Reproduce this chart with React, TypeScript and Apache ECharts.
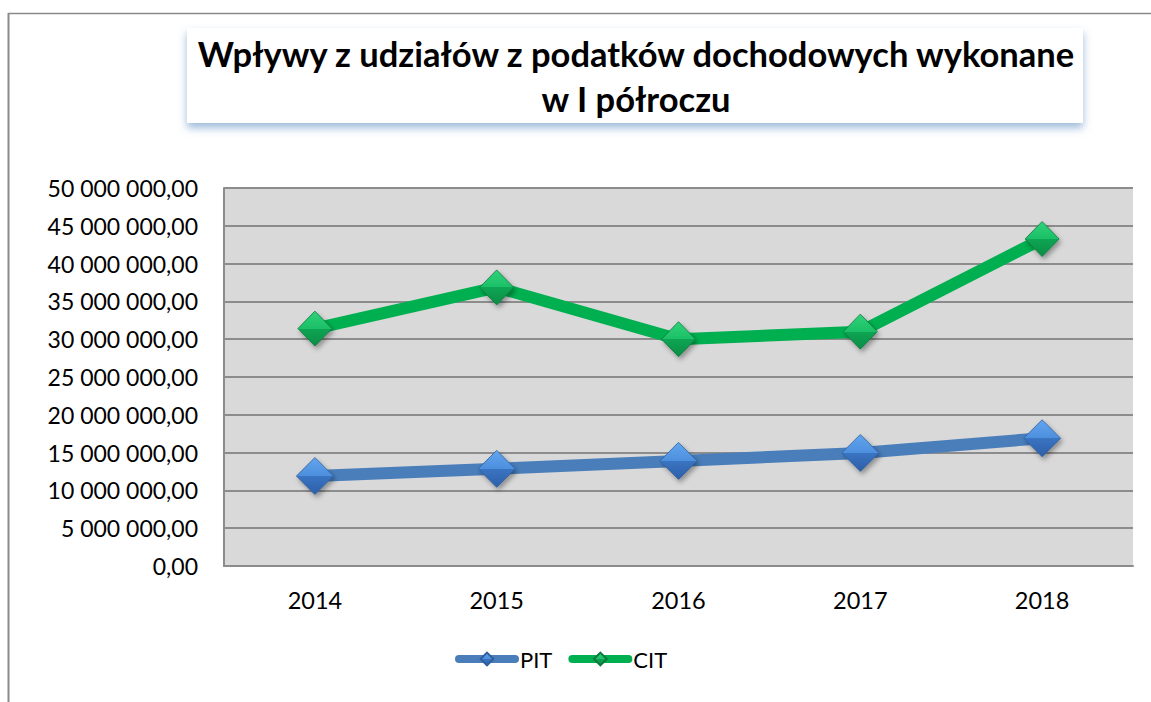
import React, { useEffect, useRef } from "react";
import * as echarts from "echarts";

const titleText = "Wpływy z udziałów z podatków dochodowych wykonane\nw I półroczu";
const years = ["2014", "2015", "2016", "2017", "2018"];
const pitValues = [11900000, 12850000, 13900000, 14950000, 16900000];
const citValues = [31400000, 36850000, 30000000, 31000000, 43250000];
const yTicks = { min: 0, max: 50000000, interval: 5000000 };

const FONT = "Lato";

function formatPL(v: number): string {
  const s = Math.round(v).toString().replace(/\B(?=(\d{3})+(?!\d))/g, " ");
  return s + ",00";
}

function grad(top: string, mid1: string, mid2: string, bottom: string) {
  return new echarts.graphic.LinearGradient(0, 0, 0, 1, [
    { offset: 0, color: top },
    { offset: 0.5, color: mid1 },
    { offset: 0.5, color: mid2 },
    { offset: 1, color: bottom },
  ]);
}

export default function App() {
  const ref = useRef<HTMLDivElement>(null);
  useEffect(() => {
    if (!ref.current) return;
    const chart = echarts.init(ref.current, undefined, { renderer: "svg" });
    const gridColor = "#8c8c8c";
    chart.setOption({
      animation: false,
      backgroundColor: "#ffffff",
      textStyle: { fontFamily: FONT },
      title: {
        text: titleText,
        left: 631,
        top: 26,
        textAlign: "center",
        z: 10,
        textStyle: {
          fontFamily: FONT,
          fontWeight: "bold",
          fontSize: 34.5,
          lineHeight: 45,
          color: "#000000",
        },
      },
      graphic: [
        {
          type: "line",
          shape: { x1: 8.5, y1: 13, x2: 8.5, y2: 702 },
          style: { stroke: "#8a8a8a", lineWidth: 2 },
          z: 1,
        },
        {
          type: "line",
          shape: { x1: 8, y1: 13.5, x2: 1151, y2: 13.5 },
          style: { stroke: "#8a8a8a", lineWidth: 1.5 },
          z: 1,
        },
        {
          type: "rect",
          shape: { x: 187, y: 28, width: 896, height: 95 },
          style: {
            fill: "#ffffff",
            shadowBlur: 8,
            shadowOffsetX: 0,
            shadowOffsetY: 5,
            shadowColor: "rgba(79,129,189,0.55)",
          },
          z: 1,
        },
      ],
      legend: {
        left: 450,
        top: 643,
        itemWidth: 56,
        itemHeight: 16,
        itemGap: 16,
        textStyle: { fontFamily: FONT, fontSize: 22, color: "#000000" },
        lineStyle: { width: 8, cap: "round" },
        data: ["PIT", "CIT"],
      },
      grid: {
        left: 224,
        right: 18,
        top: 188,
        bottom: 136,
        show: true,
        backgroundColor: "#d9d9d9",
        borderWidth: 0,
      },
      xAxis: {
        type: "category",
        data: years,
        boundaryGap: true,
        axisLine: { show: true, lineStyle: { color: gridColor, width: 2 } },
        axisTick: { show: false },
        axisLabel: { fontFamily: FONT, fontSize: 23.5, color: "#000000", margin: 22 },
        splitLine: { show: false },
      },
      yAxis: {
        type: "value",
        min: yTicks.min,
        max: yTicks.max,
        interval: yTicks.interval,
        axisLine: { show: true, lineStyle: { color: gridColor, width: 2 } },
        axisTick: { show: false },
        axisLabel: {
          fontFamily: FONT,
          fontSize: 23,
          color: "#000000",
          margin: 26,
          formatter: (v: number) => formatPL(v),
        },
        splitLine: { show: true, lineStyle: { color: gridColor, width: 2 } },
      },
      series: [
        {
          name: "PIT",
          type: "line",
          data: pitValues,
          symbol: "diamond",
          symbolSize: [37, 37],
          lineStyle: { color: "#4a7ebb", width: 12 },
          itemStyle: {
            color: grad("#62a5ef", "#4d8fdd", "#3a74c2", "#2d5fa8"),
            borderColor: "#2f5f9e",
            borderWidth: 0.8,
            shadowBlur: 5,
            shadowOffsetX: 2,
            shadowOffsetY: 3,
            shadowColor: "rgba(0,0,0,0.35)",
          },
          z: 3,
        },
        {
          name: "CIT",
          type: "line",
          data: citValues,
          symbol: "diamond",
          symbolSize: [34, 35],
          lineStyle: { color: "#00b050", width: 12 },
          itemStyle: {
            color: grad("#2fd27a", "#1cbf66", "#0da553", "#0a8d46"),
            borderColor: "#0b7a3c",
            borderWidth: 0.8,
            shadowBlur: 5,
            shadowOffsetX: 2,
            shadowOffsetY: 3,
            shadowColor: "rgba(0,0,0,0.35)",
          },
          z: 4,
        },
      ],
    });
    return () => chart.dispose();
  }, []);
  return (
    <div
      ref={ref}
      style={{ position: "absolute", left: 0, top: 0, width: 1151, height: 702, background: "#fff" }}
    />
  );
}
